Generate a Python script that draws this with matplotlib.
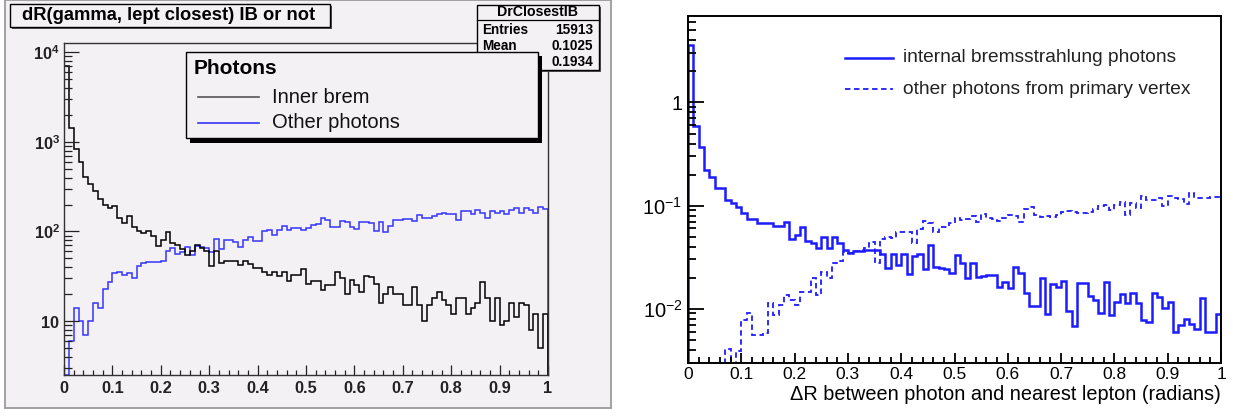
import numpy as np
import matplotlib
matplotlib.use('Agg')
import matplotlib.pyplot as plt
from matplotlib.patches import Rectangle
from matplotlib.lines import Line2D
from matplotlib.ticker import FixedLocator, FixedFormatter, NullFormatter

# ---------------- data ----------------
bin_edges = np.linspace(0.0, 1.0, 101)

# left panel: counts per 0.01 bin
left_inner_brem = [7100, 1420, 830, 600, 410, 335, 285, 228, 198, 184,
                   192, 142, 124, 147, 112, 100, 95, 102, 88, 68,
                   81, 98, 75, 71, 63, 54, 60, 70, 66, 61,
                   41, 60, 45, 47, 47, 47, 42, 47, 43, 39,
                   39, 35, 33, 35, 32, 35, 28, 33, 33, 38,
                   26, 28, 28, 22, 25, 25, 35, 30, 20, 29,
                   25, 21, 32, 31, 26, 16, 20, 24, 20, 20,
                   15, 15, 24, 15, 10, 15, 18, 21, 17, 15,
                   12, 18, 18, 12, 14, 16, 27, 18, 10, 18,
                   9, 10, 16, 11, 16, 15, 8, 12, 5, 12]
left_other = [0, 6, 14, 10, 7, 10, 16, 14, 23, 27,
              34, 35, 33, 34, 30, 41, 45, 46, 46, 46,
              47, 60, 65, 56, 59, 67, 54, 69, 67, 65,
              59, 83, 63, 80, 80, 76, 67, 80, 86, 79,
              79, 100, 104, 92, 104, 116, 104, 109, 109, 103,
              109, 119, 121, 140, 134, 112, 112, 130, 126, 112,
              107, 126, 126, 124, 100, 126, 98, 116, 134, 134,
              139, 139, 130, 151, 140, 140, 149, 158, 162, 155,
              155, 136, 170, 170, 158, 173, 160, 140, 170, 162,
              170, 155, 173, 185, 160, 185, 174, 160, 190, 178]

# right panel: normalised distributions
right_ib = [3.63, 0.594, 0.374, 0.222, 0.191, 0.148, 0.149, 0.114, 0.105, 0.0965,
            0.0855, 0.0738, 0.0738, 0.0675, 0.067, 0.0675, 0.0635, 0.0635, 0.069, 0.0472,
            0.052, 0.0617, 0.0457, 0.0437, 0.0386, 0.050, 0.0386, 0.050, 0.0437, 0.0371,
            0.0345, 0.036, 0.036, 0.037, 0.037, 0.037, 0.034, 0.0247, 0.034, 0.0266,
            0.034, 0.0217, 0.0325, 0.034, 0.0243, 0.0415, 0.0252, 0.0247, 0.0242, 0.0221,
            0.033, 0.028, 0.020, 0.028, 0.0204, 0.0207, 0.0212, 0.0212, 0.0164, 0.018,
            0.016, 0.0256, 0.0221, 0.0143, 0.0105, 0.0105, 0.020, 0.0088, 0.0173, 0.0161,
            0.0186, 0.0094, 0.0068, 0.0179, 0.0179, 0.0134, 0.0121, 0.0090, 0.0183, 0.0086,
            0.0117, 0.0139, 0.0113, 0.0143, 0.0113, 0.0078, 0.0075, 0.0143, 0.013, 0.0101,
            0.0115, 0.0060, 0.0070, 0.0079, 0.0071, 0.0064, 0.0126, 0.0060, 0.0060, 0.0088]
right_other = [0, 0, 0, 0, 0, 0, 0, 0.0041, 0, 0.0039,
               0.0078, 0.0090, 0.0056, 0.0056, 0.0058, 0.0113, 0.0087, 0.0109, 0.0136, 0.0121,
               0.0109, 0.0146, 0.0146, 0.0197, 0.0136, 0.0229, 0.0197, 0.0276, 0.0292, 0.0357,
               0.0345, 0.036, 0.037, 0.0386, 0.0447, 0.0276, 0.0472, 0.0493, 0.048, 0.056,
               0.056, 0.056, 0.0431, 0.059, 0.0715, 0.0684, 0.056, 0.0617, 0.0617, 0.0675,
               0.0754, 0.0727, 0.0737, 0.0794, 0.070, 0.083, 0.0754, 0.0737, 0.0715, 0.0754,
               0.081, 0.0794, 0.070, 0.0922, 0.0964, 0.081, 0.078, 0.080, 0.078, 0.081,
               0.0875, 0.089, 0.0875, 0.0843, 0.0843, 0.0875, 0.092, 0.098, 0.102, 0.091,
               0.102, 0.109, 0.081, 0.107, 0.094, 0.125, 0.1135, 0.112, 0.118, 0.098,
               0.125, 0.119, 0.116, 0.104, 0.132, 0.119, 0.118, 0.119, 0.122, 0.122]

x_ticks = [0, 0.1, 0.2, 0.3, 0.4, 0.5, 0.6, 0.7, 0.8, 0.9, 1.0]
x_tick_labels = ["0", "0.1", "0.2", "0.3", "0.4", "0.5", "0.6", "0.7", "0.8", "0.9", "1"]
left_y_ticks = [10, 100, 1000, 10000]
left_y_labels = [r"$\mathbf{10}$", r"$\mathbf{10^{2}}$", r"$\mathbf{10^{3}}$", r"$\mathbf{10^{4}}$"]
right_y_ticks = [0.01, 0.1, 1]
right_y_labels = [r"$10^{-2}$", r"$10^{-1}$", "1"]

left_title = "dR(gamma, lept closest) IB or not"
stats_title = "DrClosestIB"
stats_labels = ["Entries", "Mean", "RMS"]
stats_values = ["15913", "0.1025", "0.1934"]
left_legend_header = "Photons"
left_legend_labels = ["Inner brem", "Other photons"]
right_legend_labels = ["internal bremsstrahlung photons", "other photons from primary vertex"]
right_xlabel = "\u0394R between photon and nearest lepton (radians)"

# ---------------- style ----------------
W, H = 1233, 416
canvas_col = "#f4f1f5"
blue_left = "#3535ff"
blue_right = "#1c1cff"

plt.rcParams['font.family'] = ['Liberation Sans', 'DejaVu Sans']
plt.rcParams['mathtext.fontset'] = 'custom'
plt.rcParams['mathtext.rm'] = 'Liberation Sans'
plt.rcParams['mathtext.it'] = 'Liberation Sans:italic'
plt.rcParams['mathtext.bf'] = 'Liberation Sans:bold'

fig = plt.figure(figsize=(W / 100, H / 100), dpi=100)


def fig_rect(x0, y0, x1, y1):
    return [x0 / W, 1 - y1 / H, (x1 - x0) / W, (y1 - y0) / H]


def minor_log(lo, hi):
    vals = []
    for d in range(-4, 6):
        for m in range(2, 10):
            v = m * 10.0 ** d
            if lo <= v <= hi:
                vals.append(v)
    return vals


# background canvas for the ROOT panel
bg = fig.add_axes([0, 0, 1, 1], zorder=0)
bg.set_xlim(0, W)
bg.set_ylim(H, 0)
bg.axis('off')
bg.add_patch(Rectangle((5, 0), 606, 408, facecolor=canvas_col, edgecolor='#a0a0a0', lw=1.4))

# ---------------- left panel ----------------
yloL, yhiL = 2.5, 12800
axL = fig.add_axes(fig_rect(64, 42.7, 548, 375), zorder=1)
axL.set_facecolor(canvas_col)
axL.set_yscale('log')
axL.set_xlim(0, 1)
axL.set_ylim(yloL, yhiL)
axL.stairs(np.maximum(np.asarray(left_other, float), yloL), bin_edges, baseline=yloL,
           color=blue_left, lw=1.1)
axL.stairs(np.maximum(np.asarray(left_inner_brem, float), yloL), bin_edges, baseline=yloL,
           color='black', lw=1.1)
axL.xaxis.set_major_locator(FixedLocator(x_ticks))
axL.xaxis.set_major_formatter(FixedFormatter(x_tick_labels))
axL.xaxis.set_minor_locator(FixedLocator(np.arange(0, 1.0001, 0.02)))
axL.yaxis.set_major_locator(FixedLocator(left_y_ticks))
axL.yaxis.set_major_formatter(FixedFormatter(left_y_labels))
axL.yaxis.set_minor_locator(FixedLocator(minor_log(yloL, yhiL)))
axL.yaxis.set_minor_formatter(NullFormatter())
axL.tick_params(axis='both', which='both', direction='in', top=False, right=False, width=0.9,
                colors='#222222')
axL.tick_params(axis='x', which='major', length=7.5, labelsize=11.8, pad=4)
axL.tick_params(axis='x', which='minor', length=3.8)
axL.tick_params(axis='y', which='major', length=11, labelsize=11.8, pad=3)
axL.tick_params(axis='y', which='minor', length=5.5)
for lab in axL.get_xticklabels():
    lab.set_fontweight('bold')
for sp in axL.spines.values():
    sp.set_linewidth(1.0)
    sp.set_color('#333333')

# ---------------- right panel ----------------
yloR, yhiR = 0.00295, 6.95
axR = fig.add_axes(fig_rect(688, 15.7, 1221, 363.3), zorder=1)
axR.set_facecolor('white')
axR.set_yscale('log')
axR.set_xlim(0, 1)
axR.set_ylim(yloR, yhiR)
axR.stairs(np.maximum(np.asarray(right_other, float), yloR), bin_edges, baseline=yloR,
           color=blue_right, lw=1.3, linestyle=(0, (3, 2)))
axR.stairs(np.maximum(np.asarray(right_ib, float), yloR), bin_edges, baseline=yloR,
           color=blue_right, lw=1.8)
axR.xaxis.set_major_locator(FixedLocator(x_ticks))
axR.xaxis.set_major_formatter(FixedFormatter(x_tick_labels))
axR.xaxis.set_minor_locator(FixedLocator(np.arange(0, 1.0001, 0.02)))
axR.yaxis.set_major_locator(FixedLocator(right_y_ticks))
axR.yaxis.set_major_formatter(FixedFormatter(right_y_labels))
axR.yaxis.set_minor_locator(FixedLocator(minor_log(yloR, yhiR)))
axR.yaxis.set_minor_formatter(NullFormatter())
axR.tick_params(axis='both', which='both', direction='in', top=False, right=False, width=1.3)
axR.tick_params(axis='x', which='major', length=7.5, labelsize=12.5, pad=3)
axR.tick_params(axis='x', which='minor', length=4)
axR.tick_params(axis='y', which='major', length=11.5, labelsize=14.5, pad=4)
axR.tick_params(axis='y', which='minor', length=6)
for sp in axR.spines.values():
    sp.set_linewidth(1.4)
axR.set_xlabel(right_xlabel, fontsize=14.3, loc='right', labelpad=2)

# ---------------- overlay (boxes, legends) ----------------
ov = fig.add_axes([0, 0, 1, 1], zorder=3)
ov.set_xlim(0, W)
ov.set_ylim(H, 0)
ov.axis('off')
ov.patch.set_alpha(0)

# title box
ov.add_patch(Rectangle((12, 5.5), 320, 23, facecolor='#555555', edgecolor='none', zorder=1))
ov.add_patch(Rectangle((10, 3.5), 320, 23, facecolor=canvas_col, edgecolor='black', lw=1.0,
                       zorder=1.1))
ov.text(21.5, 15.5, left_title, fontsize=13.2, fontweight='bold', va='center', ha='left',
        zorder=1.2)

# stats box
ov.add_patch(Rectangle((479, 7), 122, 65, facecolor='#555555', edgecolor='none', zorder=2))
ov.add_patch(Rectangle((477, 5), 122, 65, facecolor=canvas_col, edgecolor='black', lw=1.0,
                       zorder=2.1))
ov.add_line(Line2D([477, 599], [19.5, 19.5], color='black', lw=0.9, zorder=2.2))
ov.text(538, 12.5, stats_title, fontsize=10.2, fontweight='bold', ha='center', va='center',
        zorder=2.3)
for i, (lab, val) in enumerate(zip(stats_labels, stats_values)):
    yy = 30 + i * 15.8
    ov.text(482, yy, lab, fontsize=9.8, fontweight='bold', ha='left', va='center', zorder=2.3)
    ov.text(593, yy, val, fontsize=9.8, fontweight='bold', ha='right', va='center', zorder=2.3)

# left legend (drawn over stats box)
ov.add_patch(Rectangle((190, 55.5), 351.5, 87, facecolor='black', edgecolor='none', zorder=4))
ov.add_patch(Rectangle((186, 51.7), 351.5, 86.6, facecolor=canvas_col, edgecolor='black',
                       lw=1.0, zorder=4.1))
ov.text(194, 68.5, left_legend_header, fontsize=15, fontweight='bold', ha='left', va='center',
        zorder=4.3)
ov.add_line(Line2D([197.5, 259], [96.7, 96.7], color='#555555', lw=1.2, zorder=4.2))
ov.text(272.5, 97.5, left_legend_labels[0], fontsize=14.5, ha='left', va='center',
        color='#111111', zorder=4.3)
ov.add_line(Line2D([197.5, 259], [123.3, 123.3], color=blue_left, lw=1.2, zorder=4.2))
ov.text(272.5, 123, left_legend_labels[1], fontsize=14.5, ha='left', va='center',
        color='#111111', zorder=4.3)

# right legend (no frame)
ov.add_line(Line2D([845, 893], [58.3, 58.3], color=blue_right, lw=1.8))
ov.text(903, 57.5, right_legend_labels[0], fontsize=13.8, ha='left', va='center', color='#222222')
ov.add_line(Line2D([845, 893], [89.3, 89.3], color=blue_right, lw=1.3, linestyle=(0, (3, 2))))
ov.text(903, 89, right_legend_labels[1], fontsize=13.8, ha='left', va='center', color='#222222')

fig.savefig('out.png', dpi=100)
